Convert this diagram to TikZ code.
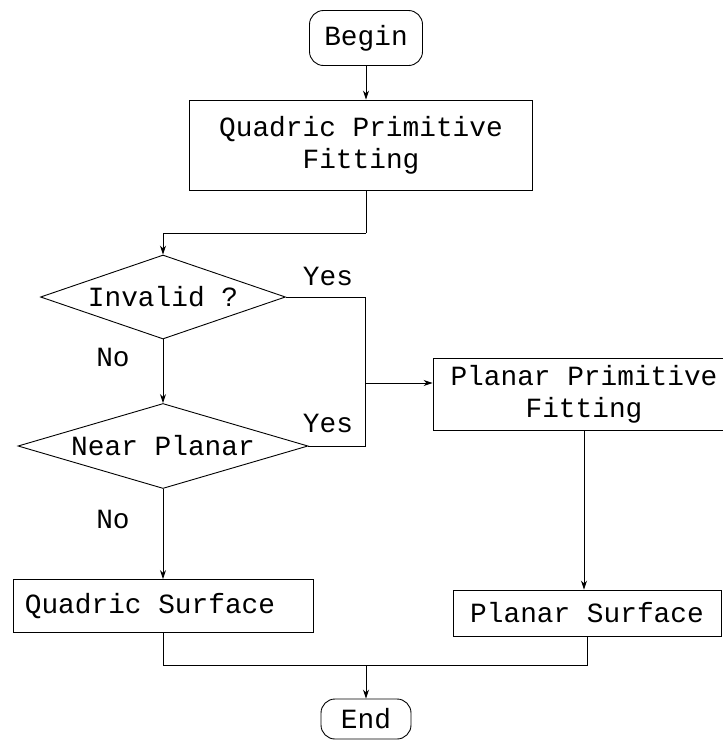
\documentclass[tikz,border=0pt]{standalone}
\usepackage{fontspec}
\setmonofont{Liberation Mono}
\usetikzlibrary{shapes.geometric,arrows.meta}
\begin{document}
\begin{tikzpicture}[x=1pt,y=-1pt,
  every node/.style={font=\ttfamily\fontsize{27.8}{32}\selectfont, inner sep=0pt},
  proc/.style={draw, line width=0.9pt, align=center},
  term/.style={draw, rounded corners=14pt, line width=0.9pt},
  decide/.style={draw, diamond, line width=0.9pt},
  conn/.style={line width=0.9pt},
  arr/.style={conn, -{Stealth[length=9pt,width=6pt]}}]
\useasboundingbox (0,0) rectangle (723,742);

\node[term, minimum width=113pt, minimum height=55pt] (begin) at (366,38) {Begin};
\node[proc, minimum width=343pt, minimum height=90pt] (qpf) at (361,145) {Quadric Primitive\\Fitting};
\node[decide, aspect=2.9, minimum width=245pt, minimum height=84pt] (inv) at (163,297) {Invalid ?};
\node[decide, aspect=3.4, minimum width=290pt, minimum height=85pt] (near) at (163,446) {Near Planar};
\node[proc, minimum width=300pt, minimum height=53pt] (qs) at (163,606) {Quadric Surface\hspace*{26pt}};
\node[proc, minimum width=302pt, minimum height=72pt] (ppf) at (584,394) {Planar Primitive\\Fitting};
\node[proc, minimum width=268pt, minimum height=46pt] (ps) at (587,613) {Planar Surface};
\node[term, minimum width=90pt, minimum height=40pt] (end) at (366,719) {End};

\node (y1) at (328,276) {Yes};
\node (y2) at (328,423) {Yes};
\node (n1) at (113,357) {No};
\node (n2) at (113,519) {No};

\draw[arr] (begin.south) -- (begin.south |- qpf.north);
\coordinate (j1) at (366,233);
\draw[conn] (qpf.south -| j1) -- (j1);
\draw[arr] (j1) -| (inv.north);
\draw[arr] (inv.south) -- (near.north);
\draw[arr] (near.south) -- (qs.north);
\coordinate (ya) at (365,297);
\coordinate (yb) at (365,446);
\coordinate (yc) at (365,383);
\draw[conn] (inv.east) -- (ya) -- (yb) -- (near.east);
\draw[arr] (yc) -- (yc -| ppf.west);
\draw[arr] (ppf.south) -- (ppf.south |- ps.north);
\coordinate (m) at (366,665);
\draw[conn] (qs.south) |- (m);
\draw[conn] (ps.south) |- (m);
\draw[arr] (m) -- (end.north);
\end{tikzpicture}
\end{document}
